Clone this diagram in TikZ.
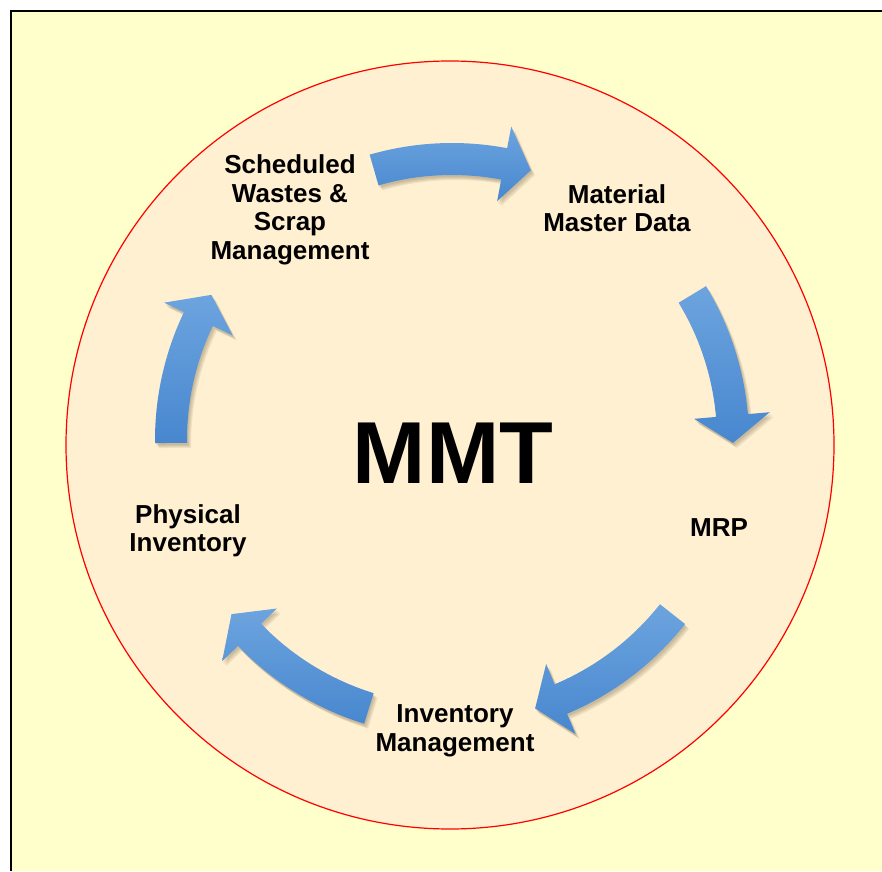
\documentclass[tikz,border=0pt]{standalone}
\usepackage{fontspec}
\setmainfont{Liberation Sans}
\definecolor{bgyellow}{HTML}{FFFFCC}
\definecolor{circfill}{HTML}{FFF0D2}
\definecolor{arrtop}{HTML}{6CA4DE}
\definecolor{arrbot}{HTML}{4887CF}
\definecolor{shadowcol}{HTML}{6B5A3A}
\newcommand\cycarrow[2]{%
  \pgfmathsetmacro\headbase{#2+5.6}%
  \foreach \sx/\sy in {1/-2,2/-3,3/-4,4/-5}{%
    \fill[shadowcol,opacity=0.1,shift={(\sx,\sy)}]
      (#1:297pt) arc[start angle=#1,end angle=\headbase,radius=297pt]
      -- (\headbase:319pt) -- (#2:281pt) -- (\headbase:243pt) -- (\headbase:265pt)
      arc[start angle=\headbase,end angle=#1,radius=265pt] -- cycle;}
  \shade[top color=arrtop,bottom color=arrbot]
      (#1:297pt) arc[start angle=#1,end angle=\headbase,radius=297pt]
      -- (\headbase:319pt) -- (#2:281pt) -- (\headbase:243pt) -- (\headbase:265pt)
      arc[start angle=\headbase,end angle=#1,radius=265pt] -- cycle;
}
\tikzset{
  lbl/.style={font=\fontsize{26}{28.5}\selectfont\bfseries, align=center, text=black, inner sep=0pt},
  bigtitle/.style={font=\fontsize{88}{88}\selectfont\bfseries, text=black, inner sep=0pt}
}
\begin{document}
\begin{tikzpicture}[x=1pt,y=1pt]
\useasboundingbox (0,0) rectangle (882,871);
\fill[bgyellow] (10,0) rectangle (882,861);
\draw[line width=2.5pt] (11,0) -- (11,860) -- (882,860);
\draw[red, line width=1.2pt, fill=circfill] (450,426) circle[radius=384pt];
\begin{scope}[shift={(452,431)}]
  \cycarrow{106.1}{73.7}
  \cycarrow{31.2}{-0.6}
  \cycarrow{-38.3}{-72.8}
  \cycarrow{252.8}{218.3}
  \cycarrow{180.6}{148.9}
\end{scope}
\node[lbl] (sched) at (290,661) {Scheduled\\Wastes \&\\Scrap\\Management};
\node[lbl] (mat) at (617,663) {Material\\Master Data};
\node[lbl] (mrp) at (719,343) {MRP};
\node[lbl] (inv) at (455,140) {Inventory\\Management};
\node[lbl] (phys) at (188,340) {Physical\\Inventory};
\node[bigtitle] (mmt) at (453,418) {MMT};
\end{tikzpicture}
\end{document}
